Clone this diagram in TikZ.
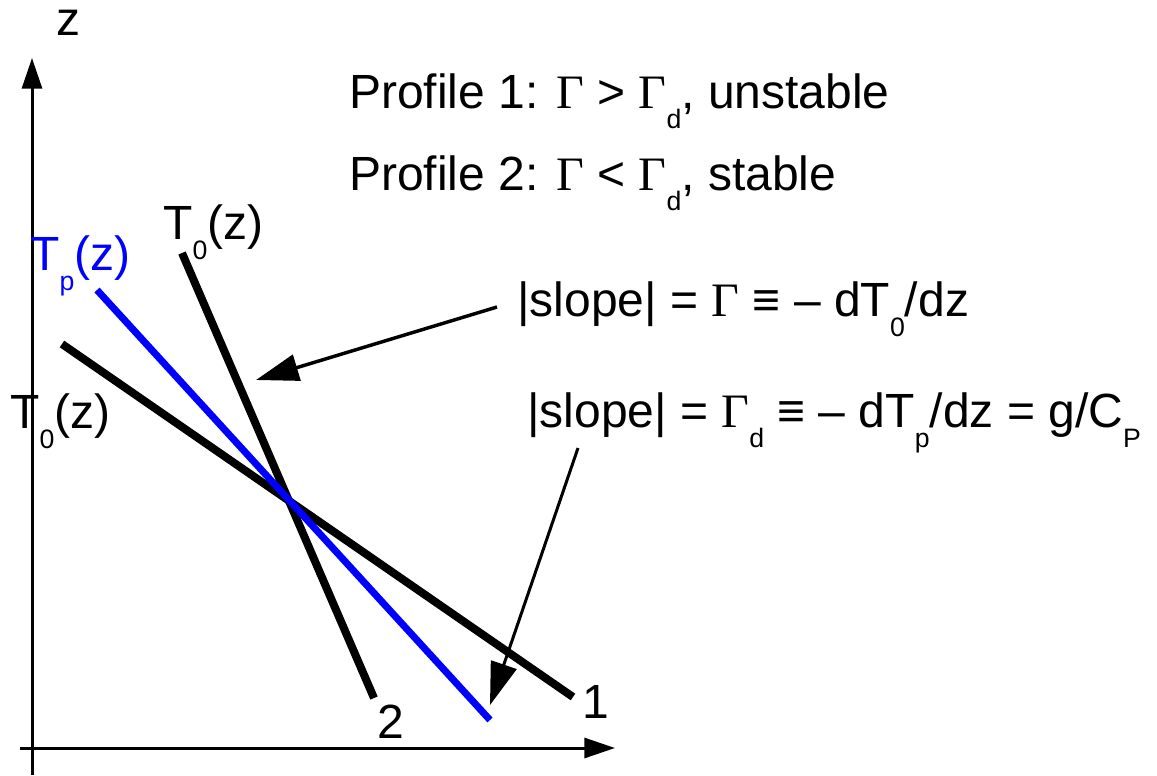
\documentclass[tikz,border=0pt]{standalone}
\usepackage{fontspec}
\setmainfont{Liberation Sans}
\newfontfamily\serifgreek{Liberation Serif}
\usepackage{tikz}
\usetikzlibrary{arrows.meta,positioning}
\definecolor{ParcelBlue}{HTML}{0000FF}
\newcommand{\Gam}{{\serifgreek Γ}}
\newcommand{\lowsub}[1]{\raisebox{-15pt}{\fontsize{20}{20}\selectfont #1}}

\begin{document}
\begin{tikzpicture}[
      x=0.75pt,y=-0.75pt,
      label/.style={
        inner sep=0pt,
        anchor=base west,
        font=\fontsize{36}{43}\selectfont
      },
      axisline/.style={
        line width=2.25pt,
        -{Triangle[length=23pt,width=15pt]}
      },
      profile/.style={
        line width=6pt
      },
      pointer/.style={
        line width=2.6pt,
        -{Triangle[length=32pt,width=20pt]}
      }
    ]
      \useasboundingbox (0,0) rectangle (1157,775);
      % axes
      \coordinate (origin) at (32,775);
      \coordinate (ztip) at (32,58);
      \coordinate (tstart) at (20,748);
      \coordinate (ttip) at (615,748);
      \draw[axisline] (origin) -- (ztip);
      \draw[axisline] (tstart) -- (ttip);
      \node[label] (zlabel) at (56,35) {z};
      % profiles
      \coordinate (oneTop) at (62,344);
      \coordinate (oneBot) at (573,697);
      \coordinate (twoTop) at (182,253);
      \coordinate (twoBot) at (374,698);
      \coordinate (parTop) at (97,290);
      \coordinate (parBot) at (490,720);
      \draw[profile] (oneTop) -- (oneBot);
      \draw[profile] (twoTop) -- (twoBot);
      \draw[profile,line width=5.25pt,ParcelBlue] (parTop) -- (parBot);
      \node[label] (one) at (582,718) {1};
      \node[label] (two) at (377,738) {2};
      \node[label] (tzeroTop) at (163,239) {T\lowsub{0}(z)};
      \node[label,text=ParcelBlue] (tparcel) at (30,270) {T\lowsub{p}(z)};
      \node[label] (tzeroLeft) at (10,428) {T\lowsub{0}(z)};
      % legend
      \node[label] (profA) at (349,108) {Profile 1: \Gam{} > \Gam\lowsub{d}, unstable};
      \node[label] (profB) at (349,190) {Profile 2: \Gam{} < \Gam\lowsub{d}, stable};
      \node[label] (slopeA) at (517,316) {|slope| = \Gam{} ≡ – dT\lowsub{0}/dz};
      \node[label] (slopeB) at (527,427) {|slope| = \Gam\lowsub{d} ≡ – dT\lowsub{p}/dz = g/C\lowsub{P}};
      \coordinate (slopeAtail) at (497,307);
      \coordinate (slopeAtip) at (256,380);
      \coordinate (slopeBtail) at (578,448);
      \coordinate (slopeBtip) at (490,705);
      \draw[pointer] (slopeAtail) -- (slopeAtip);
      \draw[pointer,line width=2.25pt] (slopeBtail) -- (slopeBtip);
    \end{tikzpicture}
\end{document}
